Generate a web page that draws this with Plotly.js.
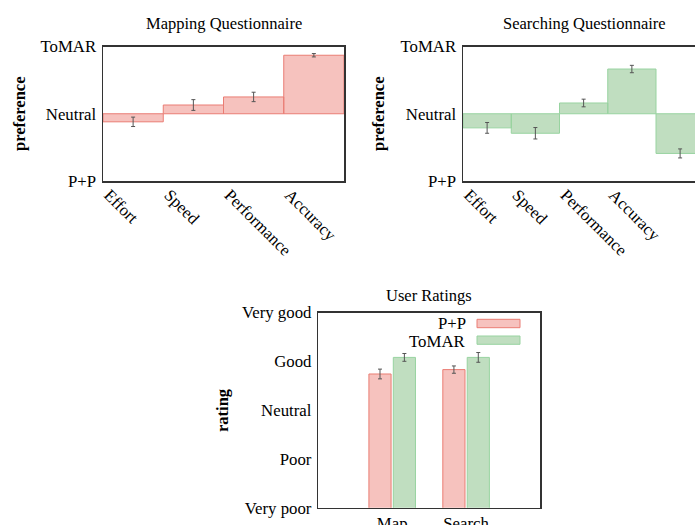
<!DOCTYPE html>
<html><head><meta charset="utf-8">
<script src="https://cdn.plot.ly/plotly-3.0.1.min.js"></script>
<style>html,body{margin:0;padding:0;background:#fff}</style>
</head><body><div id="chart" style="width:695px;height:525px"></div>
<script>
// ---- data ----
const prefLevels = ['P+P', 'Neutral', 'ToMAR'];
const mapCategories = ['Effort', 'Speed', 'Performance', 'Accuracy'];
const mapPreference = [-0.12, 0.13, 0.25, 0.87];
const mapError = [0.07, 0.08, 0.07, 0.025];
const searchCategories = ['Effort', 'Speed', 'Performance', 'Accuracy', 'Search'];
const searchPreference = [-0.21, -0.29, 0.16, 0.665, -0.59];
const searchError = [0.08, 0.085, 0.057, 0.055, 0.067];
const ratingLevels = ['Very poor', 'Poor', 'Neutral', 'Good', 'Very good'];
const ratingTasks = ['Map', 'Search'];
const ratingPP = [3.74, 3.83];
const ratingPPError = [0.1, 0.075];
const ratingToMAR = [4.08, 4.08];
const ratingToMARError = [0.08, 0.1];

// ---- style ----
const RED_FILL = 'rgba(236,120,110,0.45)';
const RED_LINE = '#ea7d74';
const GREEN_FILL = 'rgba(130,190,130,0.5)';
const GREEN_LINE = '#98d3a0';
const AXIS = '#333';
const FONT = 'Liberation Serif, Times New Roman, serif';
const W = 695, H = 525;
const px = v => v / W;
const py = v => 1 - v / H;

const errStyle = arr => ({type: 'data', array: arr, visible: true, color: '#555', thickness: 1, width: 2});

const traces = [
  {type: 'bar', x: mapCategories.map((_, i) => i + 0.5), y: mapPreference, width: 1,
   xaxis: 'x', yaxis: 'y', marker: {color: RED_FILL, line: {color: RED_LINE, width: 1}},
   error_y: errStyle(mapError), showlegend: false, hoverinfo: 'skip'},
  {type: 'bar', x: searchCategories.map((_, i) => i + 0.5), y: searchPreference, width: 1,
   xaxis: 'x2', yaxis: 'y2', marker: {color: GREEN_FILL, line: {color: GREEN_LINE, width: 1}},
   error_y: errStyle(searchError), showlegend: false, hoverinfo: 'skip'},
  {type: 'bar', x: ratingTasks.map((_, i) => i), y: ratingPP, width: 0.3, offset: -0.315,
   xaxis: 'x3', yaxis: 'y3', marker: {color: RED_FILL, line: {color: RED_LINE, width: 1}},
   error_y: errStyle(ratingPPError), showlegend: false, hoverinfo: 'skip'},
  {type: 'bar', x: ratingTasks.map((_, i) => i), y: ratingToMAR, width: 0.3, offset: 0.015,
   xaxis: 'x3', yaxis: 'y3', marker: {color: GREEN_FILL, line: {color: GREEN_LINE, width: 1}},
   error_y: errStyle(ratingToMARError), showlegend: false, hoverinfo: 'skip'}
];

const tickFont = {family: FONT, size: 16.8, color: '#000'};
const titleFont = {family: FONT, size: 16.5, color: '#000'};
const baseAxis = {showgrid: false, zeroline: false, showline: true, linecolor: AXIS, linewidth: 1.5,
  ticks: '', tickfont: tickFont, fixedrange: true};
const yExtra = {ticklabelstandoff: 2};
const xRot = {tickangle: 45, ticklabelshift: 6, ticklabelstandoff: -4};

const topY0 = py(181), topY1 = py(46.5);

const layout = {
  width: W, height: H,
  margin: {l: 0, r: 0, t: 0, b: 0},
  paper_bgcolor: '#fff', plot_bgcolor: '#fff',
  barmode: 'overlay',
  showlegend: false,
  font: {family: FONT, size: 16, color: '#000'},
  xaxis: Object.assign({}, baseAxis, xRot, {domain: [px(103), px(344)], range: [0, mapCategories.length],
    tickvals: mapCategories.map((_, i) => i), ticktext: mapCategories, mirror: true, anchor: 'y'}),
  yaxis: Object.assign({}, baseAxis, yExtra, {domain: [topY0, topY1], range: [-1, 1],
    tickvals: [-1, 0, 1], ticktext: prefLevels, mirror: true, anchor: 'x'}),
  xaxis2: Object.assign({}, baseAxis, xRot, {domain: [px(463), 1], range: [0, (W - 463) / 48.25],
    tickvals: searchCategories.map((_, i) => i), ticktext: searchCategories, mirror: true, anchor: 'y2'}),
  yaxis2: Object.assign({}, baseAxis, yExtra, {domain: [topY0, topY1], range: [-1, 1],
    tickvals: [-1, 0, 1], ticktext: prefLevels, mirror: false, anchor: 'x2'}),
  xaxis3: Object.assign({}, baseAxis, {domain: [px(318.3), px(540)], range: [-1, 2],
    tickvals: ratingTasks.map((_, i) => i), ticktext: ratingTasks, mirror: true, anchor: 'y3'}),
  yaxis3: Object.assign({}, baseAxis, yExtra, {domain: [py(507.7), py(312.5)], range: [1, 5],
    tickvals: [1, 2, 3, 4, 5], ticktext: ratingLevels, mirror: true, anchor: 'x3'}),
  annotations: [
    {text: 'Mapping Questionnaire', x: px(224.5), y: py(24), xref: 'paper', yref: 'paper', showarrow: false,
     xanchor: 'center', yanchor: 'middle', font: titleFont},
    {text: 'Searching Questionnaire', x: px(584), y: py(24), xref: 'paper', yref: 'paper', showarrow: false,
     xanchor: 'center', yanchor: 'middle', font: titleFont},
    {text: 'User Ratings', x: px(429), y: py(295), xref: 'paper', yref: 'paper', showarrow: false,
     xanchor: 'center', yanchor: 'middle', font: titleFont},
    {text: '<b>preference</b>', x: px(20), y: py(114), xref: 'paper', yref: 'paper', showarrow: false,
     textangle: -90, xanchor: 'center', yanchor: 'middle', font: titleFont},
    {text: '<b>preference</b>', x: px(379), y: py(114), xref: 'paper', yref: 'paper', showarrow: false,
     textangle: -90, xanchor: 'center', yanchor: 'middle', font: titleFont},
    {text: '<b>rating</b>', x: px(222), y: py(410), xref: 'paper', yref: 'paper', showarrow: false,
     textangle: -90, xanchor: 'center', yanchor: 'middle', font: titleFont},
    {text: 'P+P', x: px(468), y: py(323), xref: 'paper', yref: 'paper', showarrow: false,
     xanchor: 'right', yanchor: 'middle', font: tickFont},
    {text: 'ToMAR', x: px(468), y: py(341), xref: 'paper', yref: 'paper', showarrow: false,
     xanchor: 'right', yanchor: 'middle', font: tickFont}
  ],
  shapes: [
    {type: 'rect', xref: 'paper', yref: 'paper', x0: px(477), x1: px(520), y0: py(327.7), y1: py(319.3),
     fillcolor: RED_FILL, line: {color: RED_LINE, width: 1}},
    {type: 'rect', xref: 'paper', yref: 'paper', x0: px(477), x1: px(520), y0: py(344.3), y1: py(336),
     fillcolor: GREEN_FILL, line: {color: GREEN_LINE, width: 1}}
  ]
};

Plotly.newPlot('chart', traces, layout, {displayModeBar: false, staticPlot: true});
</script></body></html>
